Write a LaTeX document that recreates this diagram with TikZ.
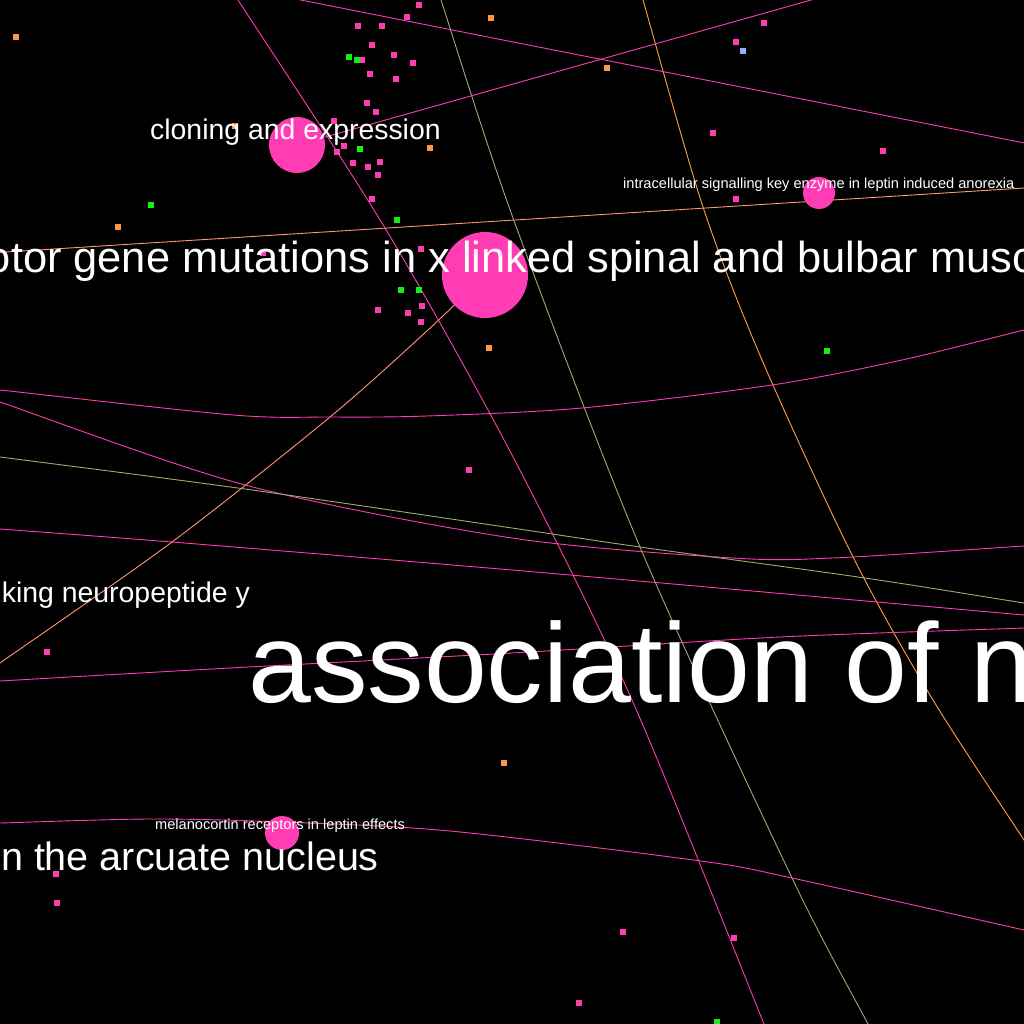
\documentclass[tikz,border=0pt]{standalone}
\usepackage{fontspec}
\setmainfont{Liberation Sans}
\definecolor{pk}{RGB}{255,60,180}
\definecolor{olv}{RGB}{160,170,110}
\definecolor{slm}{RGB}{255,150,120}
\definecolor{org}{RGB}{255,160,70}
\definecolor{gdot}{RGB}{20,240,20}
\definecolor{odot}{RGB}{255,150,70}
\definecolor{bdot}{RGB}{140,180,255}
\begin{document}
\begin{tikzpicture}[x=1pt,y=-1pt,
  ln/.style={line width=0.9pt},
  dotbase/.style={rectangle, inner sep=0pt, minimum size=5.5pt},
  pdot/.style={dotbase, fill=pk},
  gdt/.style={dotbase, fill=gdot},
  odt/.style={dotbase, fill=odot},
  bdt/.style={dotbase, fill=bdot},
  circ/.style={circle, fill=pk, inner sep=0pt},
  lbl/.style={text=white, inner sep=0pt}]
\useasboundingbox (0,0) rectangle (1024,1024);
\fill[black] (0,0) rectangle (1024,1024);
\begin{scope}
\clip (0,0) rectangle (1024,1024);
% node circles (positions)
\coordinate (cbig) at (485,275);
\coordinate (cclon) at (297,145);
\coordinate (cintra) at (819,193);
\coordinate (cmel) at (282,833);
% far ends of connectors
\coordinate (eE) at (850,-11);
% lines
\draw[ln, pk] plot[smooth] coordinates {(231,-10) (238,0) (385,228) (512,455) (632,700) (764,1024) (768,1034)};
\draw[ln, olv] plot[smooth] coordinates {(438,-10) (441,0) (513,218) (640,547) (792,878) (868,1024) (874,1036)};
\draw[ln, org] plot[smooth] coordinates {(640,-10) (643,0) (703,207) (762,360) (853,557) (933,700) (1024,840) (1032,852)};
\draw[ln, pk] (250,-10) -- (1080,154);
\draw[ln, pk] (cclon) -- (eE);
\draw[ln, slm] (-10,253) -- (1040,187);
\draw[ln, slm] plot[smooth] coordinates {(cbig) (428,330) (330,417) (172,542) (0,663) (-15,674)};
\draw[ln, pk] plot[smooth] coordinates {(-10,389) (0,390) (233,415) (330,417) (427,416) (582,408) (772,385) (902,360) (1024,330) (1040,326)};
\draw[ln, pk] plot[smooth] coordinates {(-10,399) (0,402) (245,485) (512,538) (733,558) (833,558) (1024,546) (1040,545)};
\draw[ln, olv] plot[smooth] coordinates {(-10,456) (0,457) (245,489) (512,528) (640,547) (865,578) (1024,603) (1040,605)};
\draw[ln, pk] plot[smooth] coordinates {(-10,528) (0,529) (172,542) (512,570) (877,602) (1024,615) (1040,616)};
\draw[ln, pk] plot[smooth] coordinates {(-10,682) (0,681) (230,668) (512,653) (780,637) (1024,628) (1040,627)};
\draw[ln, pk] plot[smooth] coordinates {(-10,823) (0,823) (150,819) (283,822) (450,831) (701,861) (792,878) (1024,930) (1040,934)};
% dots
\foreach \px/\py [count=\i] in {419/5,407/17,358/26,382/26,372/45,394/55,362/60,413/63,370/74,396/79,367/103,376/112,334/121,344/146,337/152,353/163,368/167,380/162,378/175,372/199,263/253,421/249,378/310,422/306,408/313,421/322,764/23,736/42,713/133,883/151,736/199,469/470,47/652,56/874,57/903,623/932,734/938,579/1003}
  \node[pdot] (pd\i) at (\px,\py) {};
\foreach \px/\py [count=\i] in {349/57,357/60,360/149,397/220,401/290,419/290,151/205,827/351,717/1022}
  \node[gdt] (gd\i) at (\px,\py) {};
\foreach \px/\py [count=\i] in {235/126,430/148,491/18,607/68,16/37,118/227,489/348,504/763}
  \node[odt] (od\i) at (\px,\py) {};
\node[bdt] (bd1) at (743,51) {};
% circles
\node[circ, minimum size=86pt] (big) at (cbig) {};
\node[circ, minimum size=56pt] (clon) at (cclon) {};
\node[circ, minimum size=32pt] (intra) at (cintra) {};
\node[circ, minimum size=34pt] (mel) at (cmel) {};
% labels
\node[lbl, anchor=base west, font=\fontsize{28.4}{30}\selectfont] (tclon) at (150,140) {cloning and expression};
\node[lbl, anchor=base west, font=\fontsize{43.4}{45}\selectfont] (tbig) at (-13.3,272) {otor gene mutations in x linked spinal and bulbar musc};
\node[lbl, anchor=base west, font=\fontsize{14.6}{16}\selectfont] (tintra) at (623,189) {intracellular signalling key enzyme in leptin induced anorexia};
\node[lbl, anchor=base east, font=\fontsize{28.4}{30}\selectfont] (tnpy) at (250,602) {king neuropeptide y};
\node[lbl, anchor=base west, font=\fontsize{113}{115}\selectfont] (tassoc) at (248,702) {association of n};
\node[lbl, anchor=base west, font=\fontsize{14.6}{16}\selectfont] (tmel) at (155,829) {melanocortin receptors in leptin effects};
\node[lbl, anchor=base east, font=\fontsize{39.5}{41}\selectfont] (tarc) at (379,870) {n the arcuate nucleus};
\end{scope}
\end{tikzpicture}
\end{document}
